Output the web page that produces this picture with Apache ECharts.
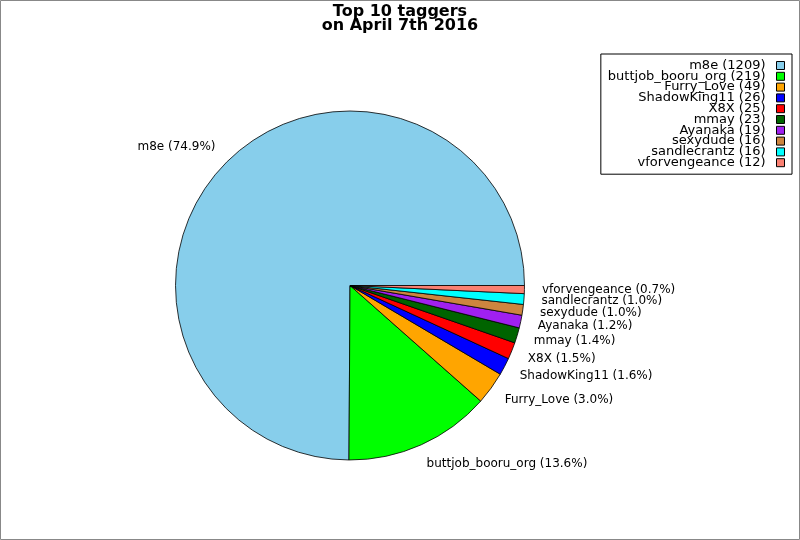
<!DOCTYPE html>
<html>
<head>
<meta charset="utf-8">
<script src="https://cdn.jsdelivr.net/npm/echarts@6/dist/echarts.min.js"></script>
<style>
html,body{margin:0;padding:0;background:#fff;}
#c{width:800px;height:540px;}
</style>
</head>
<body>
<div id="c"></div>
<script>
const names = ['m8e','buttjob_booru_org','Furry_Love','ShadowKing11','X8X','mmay','Ayanaka','sexydude','sandlecrantz','vforvengeance'];
const counts = [1209,219,49,26,25,23,19,16,16,12];
const colors = ['#87CEEB','#00FF00','#FFA500','#0000FF','#FF0000','#006400','#A020F0','#CD853F','#00FFFF','#FA8072'];
const titleLines = ['Top 10 taggers','on April 7th 2016'];

const total = counts.reduce((a,b)=>a+b,0);
const countOf = {};
names.forEach((n,i)=>{countOf[n]=counts[i];});
const font = 'DejaVu Sans';
const titleStyle = {fontFamily:font,fontSize:16,fontWeight:'bold',color:'#000'};

const chart = echarts.init(document.getElementById('c'), null, {renderer:'canvas'});
chart.setOption({
  animation:false,
  backgroundColor:'#fff',
  color: colors,
  graphic:[{
    type:'rect', silent:true, z:-10,
    shape:{x:0.5,y:0.5,width:799,height:539},
    style:{fill:'none',stroke:'#888',lineWidth:1}
  }],
  title:[
    {text:titleLines[0], left:'center', top:4, padding:0, textStyle:titleStyle},
    {text:titleLines[1], left:'center', top:18, padding:0, textStyle:titleStyle}
  ],
  legend:{
    orient:'vertical',
    right:8, top:54,
    align:'right',
    padding:[5,7,5,7],
    borderColor:'#000', borderWidth:1,
    itemWidth:8, itemHeight:8, itemGap:-2.2,
    icon:'rect',
    itemStyle:{borderColor:'#000',borderWidth:1},
    selectedMode:false,
    data:names,
    formatter:function(n){return '{n|'+n+' ('+countOf[n]+')}';},
    textStyle:{
      fontFamily:font,fontSize:13,color:'#000',
      rich:{n:{fontFamily:font,fontSize:13,color:'#000',width:158,align:'right',padding:[0,6,0,0]}}
    }
  },
  series:[{
    type:'pie',
    center:[350,285.5],
    radius:174.5,
    startAngle:0,
    clockwise:false,
    avoidLabelOverlap:false,
    silent:true,
    emphasis:{disabled:true},
    itemStyle:{borderColor:'#000',borderWidth:0.8},
    label:{
      show:true, position:'outside', distanceToLabelLine:-3,
      fontFamily:font, fontSize:12, color:'#000',
      formatter:function(p){return p.name+' ('+(p.value/total*100).toFixed(1)+'%)';}
    },
    labelLine:{show:false,length:20.5,length2:0},
    labelLayout:{hideOverlap:false},
    data:names.map((n,i)=>({name:n,value:counts[i]}))
  }]
});
</script>
</body>
</html>
